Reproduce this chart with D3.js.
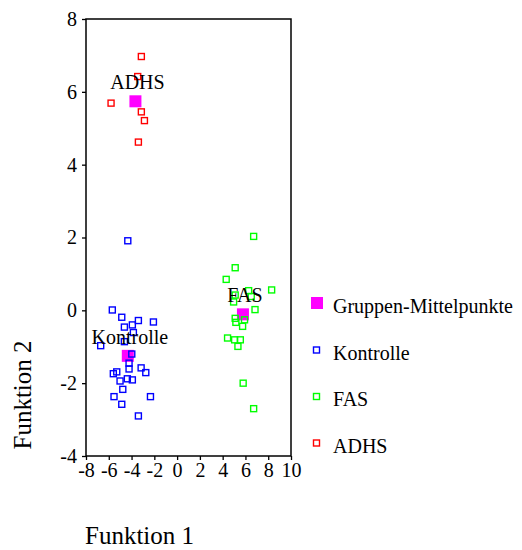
<!DOCTYPE html>
<html>
<head>
<meta charset="utf-8">
<script src="https://cdn.jsdelivr.net/npm/d3@7"></script>
<style>
  body { margin: 0; background: #fff; }
  svg, svg text { font-family: "Liberation Serif", "Times New Roman", serif !important; }
</style>
</head>
<body>
<script>
// Group names and colours
const groups = ["Kontrolle", "FAS", "ADHS"];
const groupColors = ["#0000ff", "#00ff00", "#ff0000"];

// Discriminant scores (Funktion 1, Funktion 2) per group
const kontrolleX = [-4.33, -5.69, -4.86, -3.40, -2.08, -3.93, -4.63, -3.84, -4.63, -6.71, -3.98, -4.22, -4.22, -3.16, -2.75, -5.30, -5.60, -5.01, -4.37, -3.93, -4.77, -5.54, -2.34, -4.86, -3.40];
const kontrolleY = [1.91, 0.01, -0.19, -0.28, -0.32, -0.40, -0.46, -0.61, -0.86, -0.97, -1.20, -1.45, -1.61, -1.58, -1.71, -1.69, -1.74, -1.94, -1.88, -1.91, -2.17, -2.37, -2.37, -2.58, -2.90];

const fasX = [6.72, 5.10, 4.31, 8.30, 5.10, 4.96, 6.28, 6.51, 6.84, 5.10, 5.16, 5.92, 5.75, 4.43, 5.05, 5.55, 5.34, 5.80, 6.72];
const fasY = [2.03, 1.17, 0.85, 0.56, 0.42, 0.23, 0.54, 0.38, 0.02, -0.22, -0.33, -0.26, -0.44, -0.76, -0.81, -0.81, -0.99, -2.00, -2.70];

const adhsX = [-3.14, -3.46, -5.80, -3.14, -2.87, -3.40];
const adhsY = [6.97, 6.42, 5.69, 5.45, 5.21, 4.62];

// Group centroids
const centroidX = [-4.33, 5.78, -3.66];
const centroidY = [-1.25, -0.11, 5.74];

// Axis ticks
const xTicks = [-8, -6, -4, -2, 0, 2, 4, 6, 8, 10];
const yTicks = [-4, -2, 0, 2, 4, 6, 8];

const legendLabels = ["Gruppen-Mittelpunkte", "Kontrolle", "FAS", "ADHS"];

const width = 522, height = 550;
const plot = { left: 86, right: 291, top: 19, bottom: 456 };
const serif = "'Liberation Serif', 'Times New Roman', serif";

const svg = d3.select("body").append("svg")
  .attr("width", width)
  .attr("height", height)
  .attr("font-family", serif);

const x = d3.scaleLinear().domain([-8, 10]).range([plot.left, plot.right]);
const y = d3.scaleLinear().domain([-4, 8]).range([plot.bottom, plot.top]);

// Axes
const xAxis = svg.append("g")
  .attr("transform", `translate(0,${plot.bottom})`)
  .call(d3.axisBottom(x).tickValues(xTicks).tickSize(4).tickPadding(3).tickFormat(d3.format("d")));
const yAxis = svg.append("g")
  .attr("transform", `translate(${plot.left},0)`)
  .call(d3.axisLeft(y).tickValues(yTicks).tickSize(4).tickPadding(5).tickFormat(d3.format("d")));

[xAxis, yAxis].forEach(function(a) {
  a.attr("font-family", serif).attr("font-size", 20);
  a.select(".domain").remove();
  a.selectAll(".tick line").attr("stroke", "#000").attr("stroke-width", 1.3);
  a.selectAll(".tick text")
    .attr("font-family", serif)
    .attr("fill", "#000")
    .text(function(d) { return String(d); });
});

// Frame
svg.append("rect")
  .attr("x", plot.left)
  .attr("y", plot.top)
  .attr("width", plot.right - plot.left)
  .attr("height", plot.bottom - plot.top)
  .attr("fill", "none")
  .attr("stroke", "#000")
  .attr("stroke-width", 1.5);

// Centroids
const centroids = centroidX.map(function(v, i) { return { x: v, y: centroidY[i], name: groups[i] }; });
svg.selectAll("rect.centroid")
  .data(centroids)
  .enter()
  .append("rect")
  .attr("class", "centroid")
  .attr("x", function(d) { return x(d.x) - 6; })
  .attr("y", function(d) { return y(d.y) - 6; })
  .attr("width", 12)
  .attr("height", 12)
  .attr("fill", "#ff00ff");

// Case points
const seriesX = [kontrolleX, fasX, adhsX];
const seriesY = [kontrolleY, fasY, adhsY];
for (let g = 0; g < groups.length; ++g) {
  const pts = seriesX[g].map(function(v, i) { return { x: v, y: seriesY[g][i] }; });
  svg.append("g").selectAll("rect")
    .data(pts)
    .enter()
    .append("rect")
    .attr("x", function(d) { return x(d.x) - 3; })
    .attr("y", function(d) { return y(d.y) - 3; })
    .attr("width", 6)
    .attr("height", 6)
    .attr("fill", "none")
    .attr("stroke", groupColors[g])
    .attr("stroke-width", 1.4);
}

// Centroid labels
svg.selectAll("text.clabel")
  .data(centroids)
  .enter()
  .append("text")
  .attr("class", "clabel")
  .attr("x", function(d) { return x(d.x) + 2; })
  .attr("y", function(d) { return y(d.y) - 12; })
  .attr("text-anchor", "middle")
  .attr("font-family", serif)
  .attr("font-size", 20)
  .text(function(d) { return d.name; });

// Legend
const legend = svg.append("g");
const legendTop = 313, legendStep = 46.5;
legendLabels.forEach(function(label, i) {
  const by = legendTop + i * legendStep;
  if (i === 0) {
    legend.append("rect")
      .attr("x", 311).attr("y", by - 16)
      .attr("width", 12).attr("height", 12)
      .attr("fill", "#ff00ff");
  } else {
    legend.append("rect")
      .attr("x", 313.5).attr("y", by - 12.5)
      .attr("width", 6).attr("height", 6)
      .attr("fill", "none")
      .attr("stroke", groupColors[i - 1])
      .attr("stroke-width", 1.4);
  }
  legend.append("text")
    .attr("x", 333)
    .attr("y", by)
    .attr("font-family", serif)
    .attr("font-size", 20)
    .text(label);
});

// Axis titles
svg.append("text")
  .attr("x", 85)
  .attr("y", 544)
  .attr("font-family", serif)
  .attr("font-size", 25)
  .text("Funktion 1");

svg.append("text")
  .attr("transform", "translate(31,395) rotate(-90)")
  .attr("text-anchor", "middle")
  .attr("font-family", serif)
  .attr("font-size", 25)
  .text("Funktion 2");
</script>
</body>
</html>
